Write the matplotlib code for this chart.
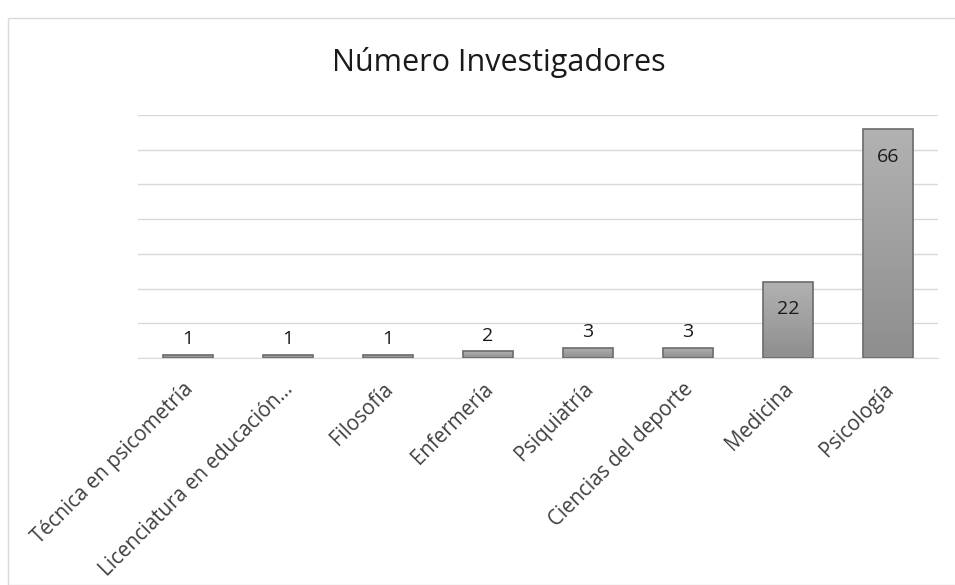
import matplotlib
matplotlib.use("Agg")
import matplotlib.pyplot as plt
import numpy as np
from matplotlib.patches import Rectangle
from matplotlib.transforms import ScaledTranslation

categories = ["Técnica en psicometría", "Licenciatura en educación…", "Filosofía",
              "Enfermería", "Psiquiatría", "Ciencias del deporte", "Medicina", "Psicología"]
values = [1, 1, 1, 2, 3, 3, 22, 66]
title = "Número Investigadores"

plt.rcParams['font.family'] = ['Open Sans', 'DejaVu Sans']

fig = plt.figure(figsize=(9.55, 5.85), dpi=100)
# outer chart border
fig.add_artist(Rectangle((8/955, 0.0), 1.0, 1 - 18/585, transform=fig.transFigure,
                         fill=False, edgecolor="#d9d9d9", linewidth=1.0))

ax = fig.add_axes([138/955, 1 - 358/585, 800/955, (358 - 115)/585])
x = np.arange(len(categories))
ax.set_xlim(-0.5, len(categories) - 0.5)
ax.set_ylim(0, 70)
ax.set_yticks(np.arange(0, 71, 10))
ax.yaxis.grid(True, color="#d9d9d9", linewidth=1.0)
ax.set_axisbelow(True)
for s in ["top", "right", "left"]:
    ax.spines[s].set_visible(False)
ax.spines["bottom"].set_color("#d9d9d9")
ax.tick_params(axis="y", length=0, labelleft=False)
ax.tick_params(axis="x", length=0, pad=5)

bars = ax.bar(x, values, width=0.5, color="none", edgecolor="#6b6b6b", linewidth=1.2, zorder=3)
grad = np.linspace(0, 1, 256).reshape(-1, 1)
cmap = matplotlib.colors.LinearSegmentedColormap.from_list("g", ["#8e8e8e", "#b2b2b2"])
for b in bars:
    x0, y0, w, h = b.get_x(), b.get_y(), b.get_width(), b.get_height()
    im = ax.imshow(grad, cmap=cmap, aspect="auto", extent=(x0, x0 + w, y0, y0 + h),
                   origin="lower", zorder=2)
    im.set_clip_path(b)
ax.set_xlim(-0.5, len(categories) - 0.5)
ax.set_ylim(0, 70)

for xi, v in zip(x, values):
    if v > 10:
        ax.text(xi, v - 8, str(v), ha="center", va="center", fontsize=14, color="#1a1a1a", zorder=4)
    else:
        ax.text(xi, v + 4.4, str(v), ha="center", va="center", fontsize=14, color="#1a1a1a", zorder=4)

ax.set_xticks(x)
ax.set_xticklabels(categories, rotation=45, ha="right", rotation_mode="anchor",
                   fontsize=14.8, color="#404040")
offset = ScaledTranslation(-5/100, -14/100, fig.dpi_scale_trans)
for lab in ax.get_xticklabels():
    lab.set_transform(lab.get_transform() + offset)

fig.text(499/955, 1 - 63/585, title, ha="center", va="center", fontsize=22, color="#1a1a1a")

fig.savefig("out.png", dpi=100)
